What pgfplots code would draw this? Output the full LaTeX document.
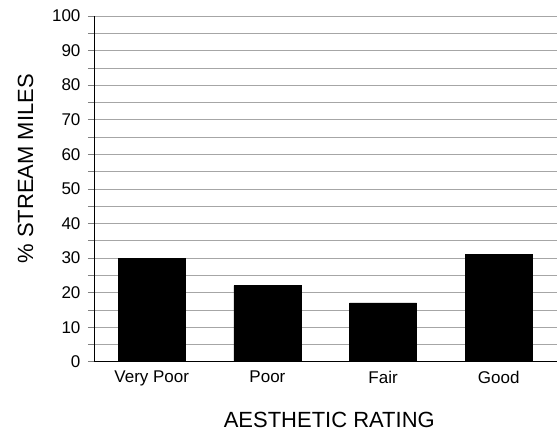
\documentclass[border=0pt]{standalone}
\usepackage{fontspec}
\setmainfont{Liberation Sans}
\usepackage{pgfplots}
\pgfplotsset{compat=1.18}

\begin{document}
\begin{tikzpicture}
\begin{axis}[
    name=ax,
    scale only axis,
    width=463bp, height=346bp,
    ybar,
    bar width=0.58,
    xmin=-0.5, xmax=3.5,
    ymin=0, ymax=100,
    axis lines*=left,
    axis line style={black, line width=0.8pt},
    xtick={0,1,2,3},
    xticklabels={Very Poor,Poor,Fair,Good},
    x tick style={draw=none},
    extra x ticks={-0.5,0.5,1.5,2.5},
    extra x tick labels={},
    extra x tick style={tick align=center, major tick length=10bp,
        tick style={draw=gray, line width=0.6pt}, grid=none},
    ytick={0,10,...,100},
    minor ytick={5,15,...,95},
    ytick align=outside,
    major tick length=6bp, minor tick length=6bp,
    y tick style={gray, line width=0.6pt},
    ymajorgrids, yminorgrids,
    major grid style={gray!70, line width=0.6pt},
    minor grid style={gray!70, line width=0.6pt},
    tick label style={font=\fontsize{17bp}{20bp}\selectfont},
    /pgf/number format/assume math mode=true,
    yticklabel style={xshift=-4bp},
    xticklabel style={yshift=0bp},
    xlabel={AESTHETIC RATING},
    ylabel={\% STREAM MILES},
    label style={font=\fontsize{22bp}{25bp}\selectfont},
    xlabel style={yshift=-8bp, xshift=4bp},
    ylabel style={yshift=12bp, xshift=20bp},
]
\addplot[fill=black, draw=black] coordinates {(0,30) (1,22) (2,17) (3,31)};
\end{axis}
\useasboundingbox ([xshift=-94bp,yshift=-70bp]ax.south west) rectangle ++(557bp,432bp);
\end{tikzpicture}
\end{document}
